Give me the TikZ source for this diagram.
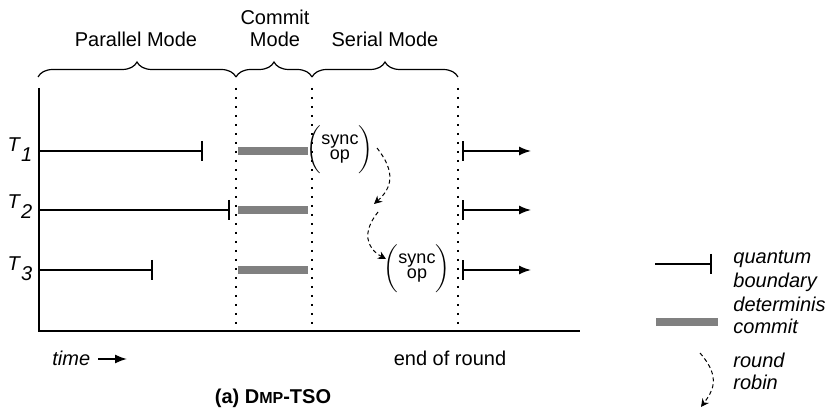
\documentclass[tikz,border=0pt]{standalone}
\usepackage{fontspec}
\setmainfont{Liberation Sans}
\usepackage{tikz}
\usetikzlibrary{positioning, decorations.pathreplacing, arrows.meta}
\definecolor{commitgray}{rgb}{0.5, 0.5, 0.5}

\tikzset{
	quantum/.style={line width=0.7pt, -{Bar[width=10pt, line width=0.8pt]}},
	nextround/.style={line width=0.7pt, {Bar[width=10pt, line width=0.8pt]}-{Latex[length=6pt, width=4.5pt]}},
	commitbar/.style={line width=3.6pt, draw=commitgray},
	divider/.style={line width=1pt, dash pattern=on 1pt off 3.5pt},
	modebrace/.style={decorate, decoration={brace, amplitude=7.5pt}, line width=0.6pt},
	robin/.style={line width=0.5pt, dash pattern=on 2pt off 1.5pt, -{Stealth[length=4pt, width=4pt]}},
	syncop/.style={font=\fontsize{9}{9}\selectfont}
}
\newcommand{\syncbox}{$\biggl(\vcenter{\hbox{\renewcommand{\arraystretch}{0.85}\begin{tabular}{@{}c@{}}sync\\op\end{tabular}}}\biggr)$}

\begin{document}
\begin{tikzpicture}[x=0.5pt, y=-0.5pt, every node/.style={font=\fontsize{10}{12}\selectfont, inner sep=0pt}]
		\clip (0,0) rectangle (825,411);
		\pgfmathsetmacro{\xaxis}{39}
		\pgfmathsetmacro{\xcommit}{236}
		\pgfmathsetmacro{\xserial}{312}
		\pgfmathsetmacro{\xend}{458}
		\pgfmathsetmacro{\ytop}{88}
		\pgfmathsetmacro{\ybot}{331}
		\coordinate (origin) at (\xaxis,\ybot);
		\coordinate (top) at (\xaxis,\ytop);
		\coordinate (right) at (580,\ybot);
		\draw[line width=1pt] (top) -- (origin) -- (right);
		\draw[divider] (\xcommit,\ytop) -- (\xcommit,\ybot);
		\draw[divider] (\xserial,\ytop) -- (\xserial,\ybot);
		\draw[divider] (\xend,\ytop) -- (\xend,\ybot);
		\draw[modebrace] (38,77) -- (\xcommit,77);
		\draw[modebrace] (\xcommit,77) -- (\xserial,77);
		\draw[modebrace] (\xserial,77) -- (\xend,77);
		\node (parallel) [anchor=base] at (136,47) {Parallel Mode};
		\node (commit) [anchor=base] at (275,25) {Commit};
		\node (commitmode) [anchor=base] at (275,47) {Mode};
		\node (serial) [anchor=base] at (385,47) {Serial Mode};
		\node (t1) [anchor=base] at (20,152) {\textit{T}\raisebox{-5pt}{\textit{1}}};
		\node (t2) [anchor=base] at (20,209) {\textit{T}\raisebox{-5pt}{\textit{2}}};
		\node (t3) [anchor=base] at (20,271) {\textit{T}\raisebox{-5pt}{\textit{3}}};
		\coordinate (s1) at (\xaxis,151);
		\coordinate (s2) at (\xaxis,210);
		\coordinate (s3) at (\xaxis,270);
		\coordinate (q1) at (203,151);
		\coordinate (q2) at (230,210);
		\coordinate (q3) at (153,270);
		\draw[quantum] (s1) -- (q1);
		\draw[quantum] (s2) -- (q2);
		\draw[quantum] (s3) -- (q3);
		\draw[commitbar] (238,151) -- (308,151);
		\draw[commitbar] (238,210) -- (308,210);
		\draw[commitbar] (238,270) -- (308,270);
		\node (sync1) [syncop] at (340,149) {\syncbox};
		\node (sync2) [syncop] at (417,268) {\syncbox};
		\coordinate (rr1) at (377,148);
		\coordinate (rr2) at (374,204);
		\coordinate (rr3) at (378,212);
		\coordinate (rr4) at (386,259);
		\draw[robin] (rr1) .. controls (396,172) and (392,188) .. (rr2);
		\draw[robin] (rr3) .. controls (362,232) and (366,248) .. (rr4);
		\coordinate (n1) at (462,151);
		\coordinate (n2) at (462,210);
		\coordinate (n3) at (462,270);
		\coordinate (m1) at (531,151);
		\coordinate (m2) at (531,210);
		\coordinate (m3) at (531,270);
		\draw[nextround] (n1) -- (m1);
		\draw[nextround] (n2) -- (m2);
		\draw[nextround] (n3) -- (m3);
		\node (time) [anchor=base west] at (52,365) {\textit{time}};
		\coordinate (timea) at (98,359);
		\coordinate (timeb) at (127,359);
		\draw[line width=0.8pt, -{Latex[length=6pt, width=4.5pt]}] (timea) -- (timeb);
		\node (endround) [anchor=base] at (450,365) {end of round};
		\node (caption) [anchor=base] at (273,403) {\textbf{(a) D{\fontsize{8}{10}\selectfont MP}-TSO}};
		\coordinate (lq1) at (655,264);
		\coordinate (lq2) at (712,264);
		\draw[quantum] (lq1) -- (lq2);
		\draw[commitbar] (656,322) -- (718,322);
		\coordinate (lr1) at (700,353);
		\coordinate (lr2) at (701,407);
		\draw[robin] (lr1) .. controls (722,378) and (712,392) .. (lr2);
		\node (lquantum) [anchor=base west] at (733,264) {\textit{quantum}};
		\node (lboundary) [anchor=base west] at (733,288) {\textit{boundary}};
		\node (ldet) [anchor=base west] at (733,312) {\textit{deterministic}};
		\node (lcommit) [anchor=base west] at (733,334) {\textit{commit}};
		\node (lround) [anchor=base west] at (733,367) {\textit{round}};
		\node (lrobin) [anchor=base west] at (733,390) {\textit{robin}};
		\end{tikzpicture}
\end{document}
